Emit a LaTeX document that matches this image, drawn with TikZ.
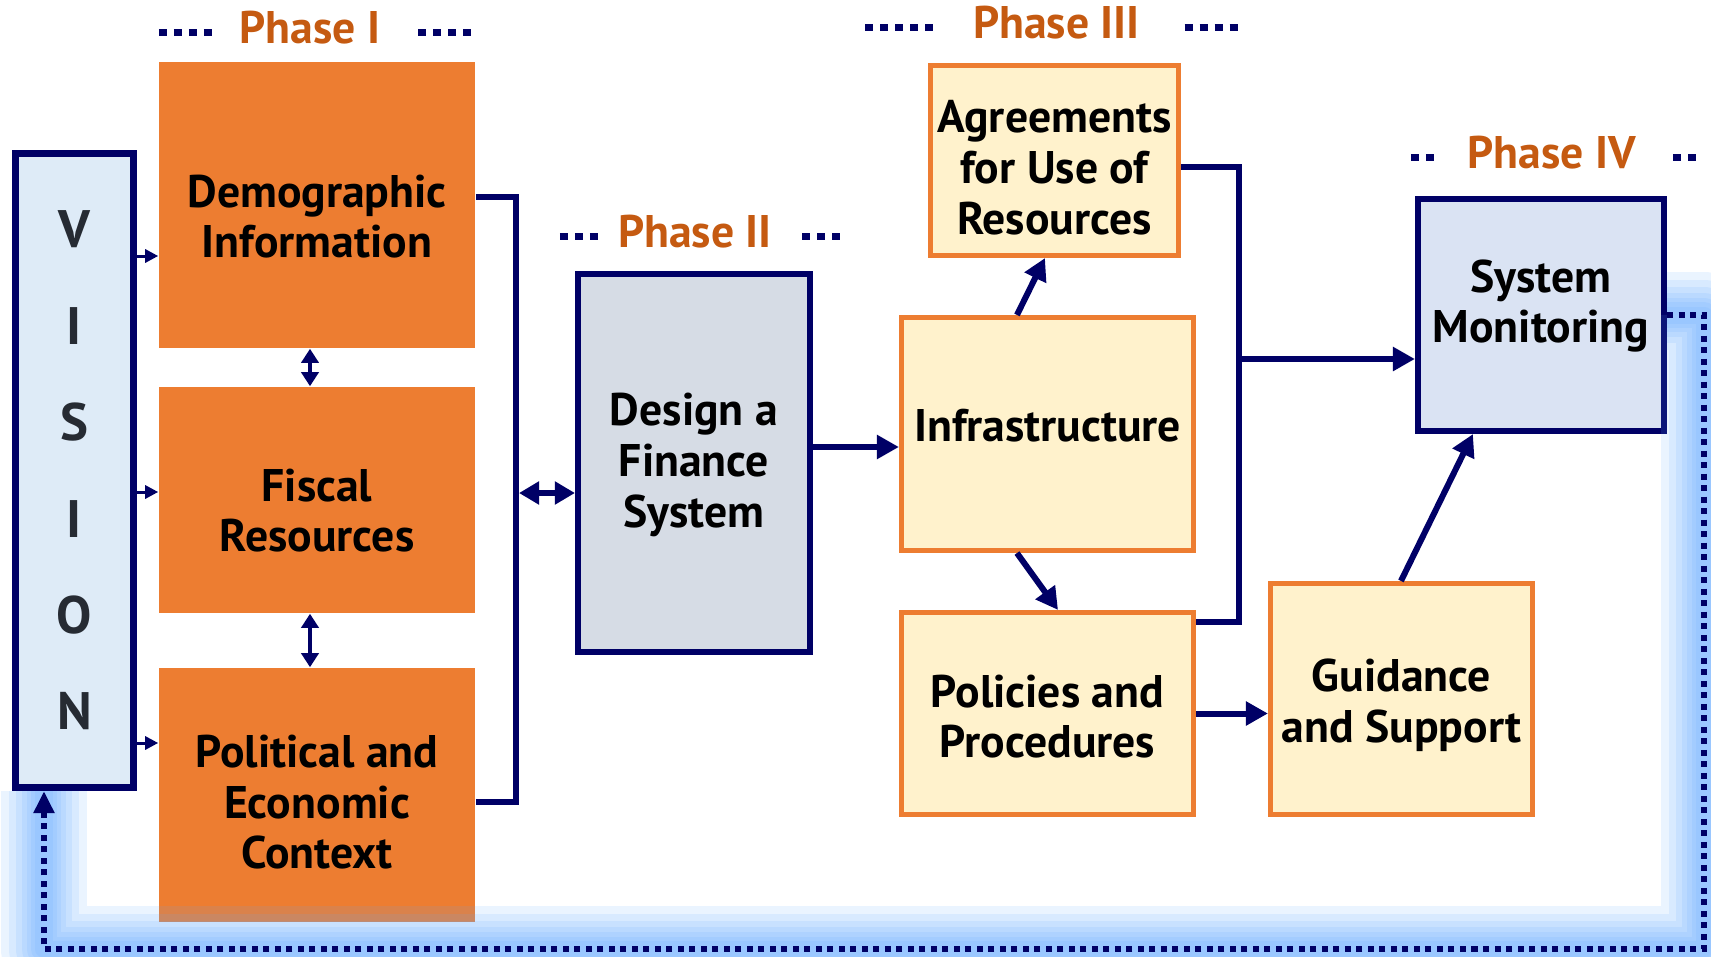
\documentclass[tikz,border=0pt]{standalone}
\usepackage{fontspec}
\setmainfont{PT Sans}
\usepackage{tikz}
\usetikzlibrary{positioning}
\usetikzlibrary{arrows.meta}
\usepackage{xcolor}

\definecolor{navy}{RGB}{0,0,102}
\definecolor{orangefill}{RGB}{237,125,49}
\definecolor{phasetext}{RGB}{197,90,17}
\definecolor{yellowfill}{RGB}{255,242,204}
\definecolor{visionfill}{RGB}{222,235,247}
\definecolor{visiontext}{RGB}{38,43,51}
\definecolor{designfill}{RGB}{214,220,229}
\definecolor{monfill}{RGB}{218,227,243}
\definecolor{glowblue}{RGB}{95,170,255}

% box text, moved up or down inside its box
\newcommand{\liftlines}[2]{\raisebox{#1}[\height][\depth]{\begin{tabular}{@{}c@{}}#2\end{tabular}}}

\begin{document}
\begin{tikzpicture}[x=0.01cm, y=-0.01cm,
    box/.style={rectangle, align=center, inner sep=0pt, font=\bfseries\fontsize{13}{14.4}\selectfont},
    orangebox/.style={box, fill=orangefill, minimum width=3.16cm},
    yellowbox/.style={box, draw=orangefill, fill=yellowfill, line width=0.05cm},
    bluebox/.style={box, draw=navy, line width=0.06cm},
    phase/.style={font=\bfseries\fontsize{13}{14}\selectfont, text=phasetext, inner sep=0pt},
    phdots/.style={navy, line width=0.07cm, dash pattern=on 0.08cm off 0.07cm},
    link/.style={navy, line width=0.06cm},
    arrow/.style={link, -{Triangle[length=0.22cm, width=0.23cm]}},
    dblbig/.style={link, {Triangle[length=0.2cm, width=0.22cm]}-{Triangle[length=0.2cm, width=0.22cm]}},
    dblsmall/.style={navy, line width=0.04cm, {Triangle[length=0.14cm, width=0.17cm]}-{Triangle[length=0.14cm, width=0.17cm]}},
    thinarrow/.style={navy, line width=0.03cm, -{Triangle[length=0.13cm, width=0.13cm]}},
    feedback/.style={navy, line width=0.06cm, dash pattern=on 0.06cm off 0.055cm, -{Triangle[length=0.22cm, width=0.2cm]}},
    glow/.style={glowblue, line join=round}]

    \path[use as bounding box, fill=white] (0,0) rectangle (1711,957);

    % Vision column
    \node (vision) [bluebox, fill=visionfill, line width=0.07cm, minimum width=1.18cm, minimum height=6.34cm,
        font=\bfseries\fontsize{15}{27.4}\selectfont, text=visiontext] at (74.5,470.5) {V\\I\\S\\I\\O\\N};

    % Phase I boxes
    \node (demog) [orangebox, minimum height=2.86cm] at (317,205) {\liftlines{-0.175cm}{Demographic\\Information}};
    \node (fiscal) [orangebox, minimum height=2.26cm] at (317,500) {\liftlines{-0.165cm}{Fiscal\\Resources}};
    \node (polit) [orangebox, minimum height=2.54cm] at (317,795) {\liftlines{-0.13cm}{Political and\\Economic\\Context}};

    % Phase II box
    \node (design) [bluebox, fill=designfill, minimum width=2.32cm, minimum height=3.78cm] at (694,463) {\liftlines{-0.035cm}{Design a\\Finance\\System}};

    % Phase III boxes
    \node (agree) [yellowbox, minimum width=2.48cm, minimum height=1.90cm] at (1054.5,160.5) {\liftlines{-0.13cm}{Agreements\\for Use of\\Resources}};
    \node (infra) [yellowbox, minimum width=2.92cm, minimum height=2.33cm] at (1047.5,434) {\liftlines{0.023cm}{Infrastructure}};
    \node (policy) [yellowbox, minimum width=2.92cm, minimum height=2.02cm] at (1047.5,713.5) {\liftlines{-0.09cm}{Policies and\\Procedures}};

    % Phase IV boxes
    \node (guide) [yellowbox, minimum width=2.62cm, minimum height=2.31cm] at (1401.5,699) {\liftlines{-0.076cm}{Guidance\\and Support}};
    \node (sysmon) [bluebox, fill=monfill, minimum width=2.46cm, minimum height=2.32cm] at (1541,315) {\liftlines{0.076cm}{System\\Monitoring}};

    % Phase labels
    \node (ph1) [phase, above=0.16cm of demog, xshift=-0.07cm] {Phase I};
    \node (ph2) [phase, above=0.22cm of design, xshift=0.01cm] {Phase II};
    \node (ph3) [phase, above=0.23cm of agree, xshift=0.02cm] {Phase III};
    \node (ph4) [phase, above=0.26cm of sysmon, xshift=0.11cm] {Phase IV};

    \draw[phdots] ([xshift=-1.51cm, yshift=-0.05cm]ph1.center) -- ++(53,0);
    \draw[phdots] ([xshift=1.08cm, yshift=-0.05cm]ph1.center) -- ++(53,0);
    \draw[phdots] ([xshift=-1.35cm, yshift=-0.05cm]ph2.center) -- ++(38,0);
    \draw[phdots] ([xshift=1.07cm, yshift=-0.05cm]ph2.center) -- ++(38,0);
    \draw[phdots] ([xshift=-1.91cm, yshift=-0.05cm]ph3.center) -- ++(68,0);
    \draw[phdots] ([xshift=1.28cm, yshift=-0.05cm]ph3.center) -- ++(53,0);
    \draw[phdots] ([xshift=-1.41cm, yshift=-0.05cm]ph4.center) -- ++(23,0);
    \draw[phdots] ([xshift=1.21cm, yshift=-0.05cm]ph4.center) -- ++(23,0);

    % Vision feeds the Phase I boxes
    \coordinate (in1) at (0,256);
    \coordinate (in2) at (0,492);
    \coordinate (in3) at (0,743);
    \foreach \b/\c in {demog/in1, fiscal/in2, polit/in3}
        \draw[thinarrow] (vision.east |- \c) -- (\b.west |- \c);

    \draw[dblsmall] ([xshift=-0.07cm]demog.south) -- ([xshift=-0.07cm]fiscal.north);
    \draw[dblsmall] ([xshift=-0.07cm]fiscal.south) -- ([xshift=-0.07cm]polit.north);

    % Phase I to Phase II
    \coordinate (lbar) at (516,493);
    \draw[link] ([yshift=0.08cm]demog.east) -| (lbar) |- ([yshift=-0.07cm]polit.east);
    \draw[dblbig, shorten <=0.03cm] (lbar) -- (lbar -| design.west);

    % Phase II to Phase III
    \coordinate (dmid) at (0,447);
    \draw[arrow] (design.east |- dmid) -- (infra.west |- dmid);
    \draw[arrow] ([xshift=-0.305cm]infra.north) -- ([xshift=-0.095cm]agree.south);
    \draw[arrow] ([xshift=-0.305cm]infra.south) -- ([xshift=0.105cm]policy.north);

    % Phase III to Phase IV
    \coordinate (rbar) at (1239,359);
    \draw[link] ([yshift=-0.065cm]agree.east) -| (rbar) |- ([yshift=-0.125cm]policy.north east);
    \draw[arrow] (rbar) -- (rbar -| sysmon.west);
    \draw[arrow] (policy.east) -- (policy.east -| guide.west);
    \draw[arrow] ([xshift=-0.005cm]guide.north) -- ([xshift=-0.68cm]sysmon.south);

    % Feedback loop back to the vision
    \coordinate (fbr) at (1704,949);
    \coordinate (fbl) at (44,949);
    \foreach \w in {0.85, 0.7, 0.56, 0.44, 0.34, 0.25, 0.17}
        \draw[glow, line width=\w cm, opacity=0.13] (sysmon.east) -| (fbr) -- (fbl) -- (fbl |- vision.south);
    \draw[feedback] (sysmon.east) -| (fbr) -- (fbl) -- (fbl |- vision.south);
\end{tikzpicture}
\end{document}
